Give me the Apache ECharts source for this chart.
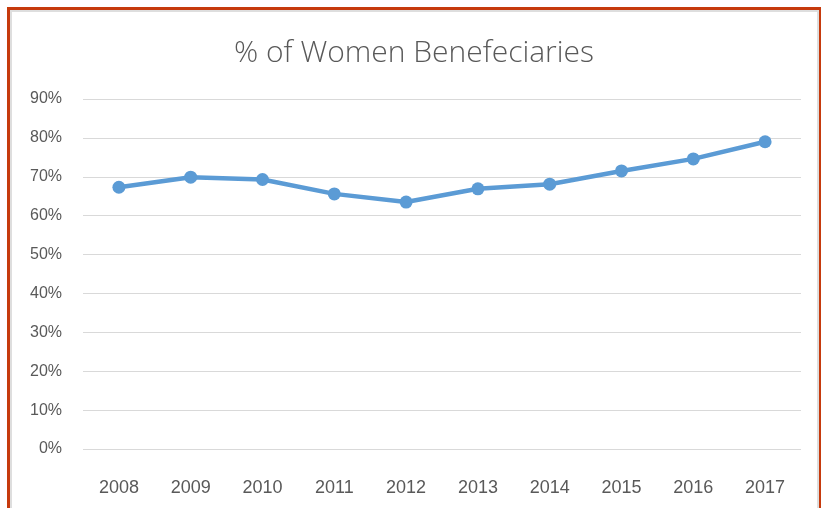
<!DOCTYPE html>
<html>
<head>
<meta charset="utf-8">
<script src="https://cdn.jsdelivr.net/npm/echarts@6/dist/echarts.min.js"></script>
<style>
  html, body { margin: 0; padding: 0; background: #fff; overflow: hidden; }
  #frame { position: absolute; left: 7px; top: 7px; right: 1px; bottom: -20px;
           border-top: 3px solid #c63a0d; border-left: 3px solid #c63a0d; border-right: 2px solid #c63a0d; }
  #inner { position: absolute; left: 0; top: 0; right: 0; bottom: 0;
           border-top: 2px solid #dedede; border-left: 2px solid #dedede; border-right: 2px solid #dedede; }
  #chart { position: absolute; left: 0; top: 0; width: 822px; height: 508px; }
</style>
</head>
<body>
<div id="frame"><div id="inner"></div></div>
<div id="chart"></div>
<script>
// 数据
var years = ['2008', '2009', '2010', '2011', '2012', '2013', '2014', '2015', '2016', '2017'];
var womenShare = [67.3, 69.9, 69.3, 65.6, 63.5, 66.9, 68.1, 71.5, 74.6, 79.0];
var titleText = '% of Women Benefeciaries';

var myChart = echarts.init(document.getElementById('chart'));
var option = {
    animation: false,
    title: {
        text: titleText,
        left: 409,
        top: 33,
        textAlign: 'center',
        textStyle: {
            fontFamily: 'Open Sans',
            fontWeight: 300,
            fontSize: 30,
            color: '#595959'
        }
    },
    grid: {
        left: 83,
        right: 21,
        top: 99,
        bottom: 59
    },
    xAxis: {
        type: 'category',
        data: years,
        boundaryGap: true,
        axisLine: { show: false },
        axisTick: { show: false },
        axisLabel: {
            margin: 30,
            fontFamily: 'Liberation Sans',
            fontSize: 18,
            color: '#595959'
        }
    },
    yAxis: {
        type: 'value',
        min: 0,
        max: 90,
        interval: 10,
        axisLine: { show: false },
        axisTick: { show: false },
        axisLabel: {
            margin: 21,
            formatter: '{value}%',
            fontFamily: 'Liberation Sans',
            fontSize: 16,
            color: '#595959'
        },
        splitLine: { lineStyle: { color: '#d9d9d9', width: 1 } }
    },
    series: [{
        type: 'line',
        data: womenShare,
        symbol: 'circle',
        symbolSize: 13,
        lineStyle: { color: '#5b9bd5', width: 4.5 },
        itemStyle: { color: '#5b9bd5' }
    }]
};
myChart.setOption(option);
</script>
</body>
</html>
